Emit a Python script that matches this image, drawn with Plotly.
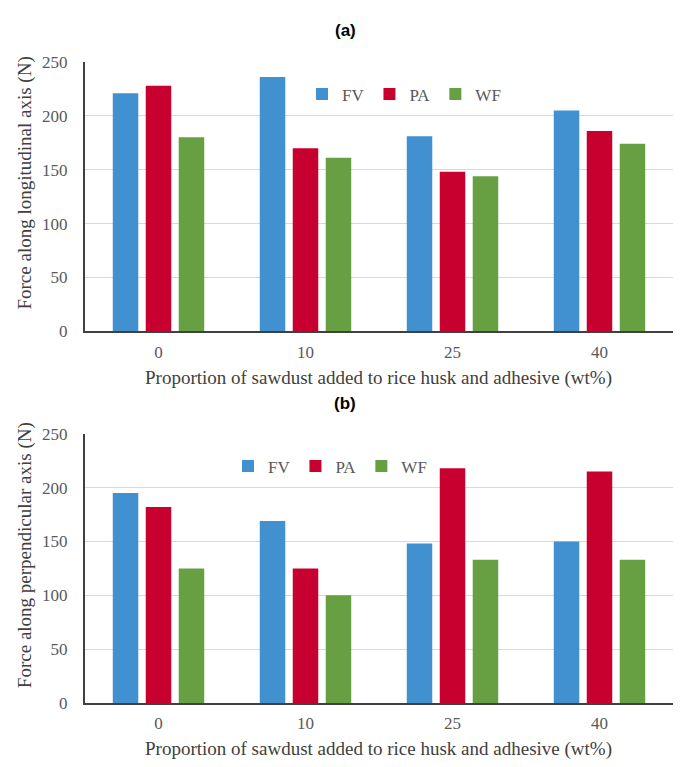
import plotly.graph_objects as go
from plotly.subplots import make_subplots

# Sawdust proportion (wt%) added to rice husk and adhesive
categories = ["0", "10", "25", "40"]
series_names = ["FV", "PA", "WF"]

# (a) force along the longitudinal axis (N)
long_fv = [221, 236, 181, 205]
long_pa = [228, 170, 148, 186]
long_wf = [180, 161, 144, 174]

# (b) force along the perpendicular axis (N)
perp_fv = [195, 169, 148, 150]
perp_pa = [182, 125, 218, 215]
perp_wf = [125, 100, 133, 133]

y_ticks = [0, 50, 100, 150, 200, 250]

colors = {"FV": "#4191d1", "PA": "#c8002f", "WF": "#67a042"}

W, H = 680, 767
SERIF = "Liberation Serif, Times New Roman, serif"
SANS = "Liberation Sans, Arial, sans-serif"


def py(px):
    """Pixel row (from the top) -> paper y."""
    return 1 - px / H


def pxx(px):
    """Pixel column -> paper x."""
    return px / W


fig = make_subplots(rows=2, cols=1)

panels = [
    (1, [long_fv, long_pa, long_wf], "legend"),
    (2, [perp_fv, perp_pa, perp_wf], "legend2"),
]
for row, values, leg in panels:
    for name, vals in zip(series_names, values):
        fig.add_trace(
            go.Bar(
                x=categories,
                y=vals,
                name=name,
                marker=dict(color=colors[name], line=dict(width=0)),
                legend=leg,
            ),
            row=row,
            col=1,
        )

x_dom = [pxx(85), pxx(673)]
top_dom = [py(330.5), py(54.3)]
bot_dom = [py(711.7), py(435.5)]

axis_common_x = dict(
    domain=x_dom,
    showgrid=False,
    showline=True,
    linecolor="#404040",
    linewidth=2,
    ticks="",
    tickfont=dict(family=SERIF, size=17, color="#595959"),
    ticklabelstandoff=4,
)
axis_common_y = dict(
    range=[0, 250],
    tickvals=y_ticks,
    showgrid=True,
    gridcolor="#d9d9d9",
    gridwidth=1,
    showline=True,
    linecolor="#404040",
    linewidth=2,
    ticks="",
    zeroline=False,
    tickfont=dict(family=SERIF, size=17, color="#595959"),
    ticklabelstandoff=12,
)

fig.update_layout(
    xaxis=dict(**axis_common_x),
    xaxis2=dict(**axis_common_x),
    yaxis=dict(domain=top_dom, **axis_common_y),
    yaxis2=dict(domain=bot_dom, **axis_common_y),
)

legend_style = dict(
    orientation="h",
    font=dict(family=SERIF, size=17, color="#595959"),
    bgcolor="rgba(0,0,0,0)",
    itemwidth=30,
    xanchor="left",
    yanchor="middle",
    traceorder="normal",
    itemclick=False,
)
fig.update_layout(
    legend=dict(x=pxx(302), y=py(87.5), **legend_style),
    legend2=dict(x=pxx(228), y=py(469), **legend_style),
)

for text, ypix in (("<b>(a)</b>", 22), ("<b>(b)</b>", 405)):
    fig.add_annotation(
        text=text, x=pxx(345), y=py(ypix), xref="paper", yref="paper",
        showarrow=False, xanchor="center", yanchor="middle",
        font=dict(family=SANS, size=17, color="#000000"),
    )

xtitle = "Proportion of sawdust added to rice husk and adhesive (wt%)"
for ypix in (378, 759):
    fig.add_annotation(
        text=xtitle, x=pxx(378), y=py(ypix), xref="paper", yref="paper",
        showarrow=False, xanchor="center", yanchor="middle",
        font=dict(family=SERIF, size=19, color="#404040"),
    )

for text, ypix in (("Force along longitudinal axis (N)", 179),
                   ("Force along perpendicular axis (N)", 560)):
    fig.add_annotation(
        text=text, x=pxx(25), y=py(ypix), xref="paper", yref="paper",
        showarrow=False, xanchor="center", yanchor="middle", textangle=-90,
        font=dict(family=SERIF, size=19, color="#404040"),
    )

fig.update_layout(
    width=W,
    height=H,
    margin=dict(l=0, r=0, t=0, b=0),
    paper_bgcolor="white",
    plot_bgcolor="white",
    barmode="group",
    bargap=0.327,
    bargroupgap=0.227,
    showlegend=True,
)

fig.write_html("out.html")
